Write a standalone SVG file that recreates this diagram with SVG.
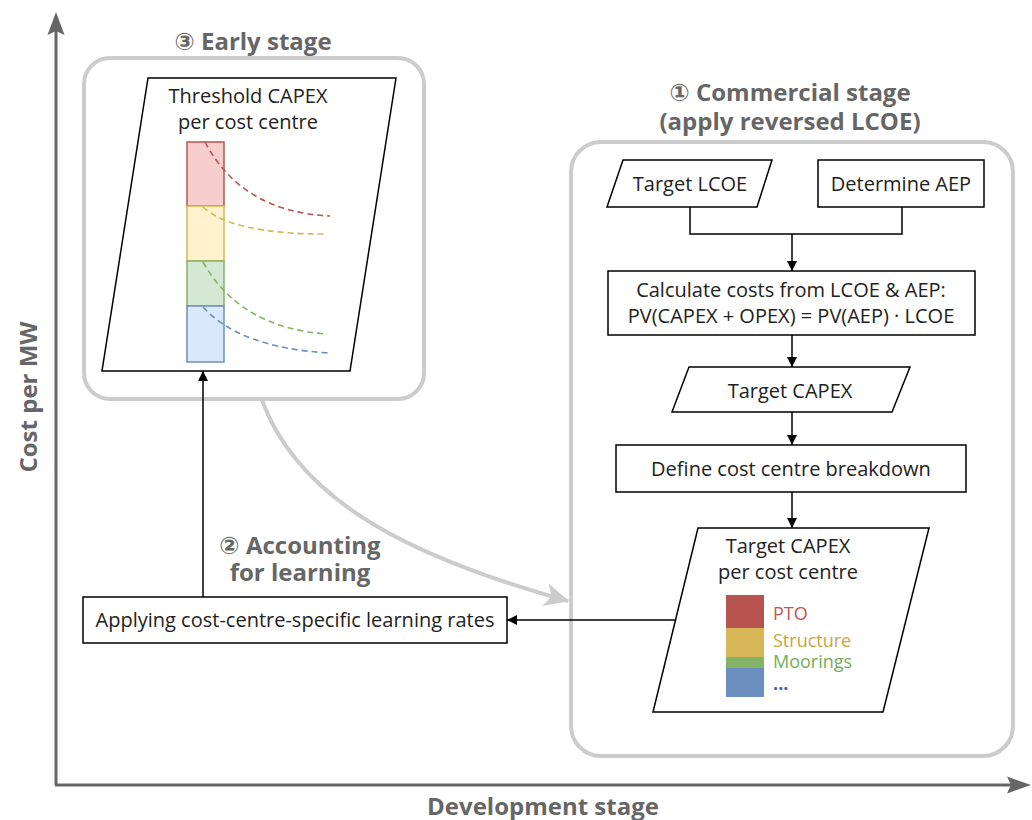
<svg xmlns="http://www.w3.org/2000/svg" width="1032" height="820" viewBox="0 0 1032 820">
<style>
.axis{stroke:#666;stroke-width:3;fill:none}
.grp{fill:none;stroke:#cccccc;stroke-width:4}
.node{fill:#fff;stroke:#000;stroke-width:1.5}
.t{font-family:"Open Sans","DejaVu Sans",sans-serif;font-size:20px;fill:#222;text-anchor:middle}
.lbl{font-family:"Open Sans","DejaVu Sans",sans-serif;font-size:18px}
.h{font-family:"Open Sans","DejaVu Sans",sans-serif;font-size:24px;font-weight:bold;fill:#666;text-anchor:middle}
.edge{stroke:#000;stroke-width:1.5;fill:none}
.dash{fill:none;stroke-width:1.6;stroke-dasharray:6 4}
</style>
<defs>
<marker id="ahb" viewBox="0 0 10 10" refX="10" refY="5" markerWidth="10" markerHeight="10" markerUnits="userSpaceOnUse" orient="auto">
<path d="M0,0 L10,5 L0,10 z" fill="#000"/>
</marker>
<marker id="gh" viewBox="0 0 20 20" refX="18" refY="10" markerWidth="26" markerHeight="26" markerUnits="userSpaceOnUse" orient="auto">
<path d="M0,1 L19,10 L0,19 L5,10 z" fill="#cccccc"/>
</marker>
</defs>

<g id="axes">
<line class="axis" x1="56" y1="785" x2="56" y2="30"/>
<path d="M56,12 L64.5,35 L56,31 L47.5,35 z" fill="#666"/>
<line class="axis" x1="55" y1="785" x2="1012" y2="785"/>
<path d="M1031,785 L1007,793.5 L1011,785 L1007,776.5 z" fill="#666"/>
<text class="h" transform="translate(37,397) rotate(-90)">Cost per MW</text>
<text class="h" x="543" y="815">Development stage</text>
</g>

<g id="early-stage">
<rect class="grp" x="84" y="58" width="340" height="341" rx="26"/>
<text class="h" x="253" y="50">③ Early stage</text>
</g>

<g id="commercial-stage">
<rect class="grp" x="571" y="142" width="442" height="614" rx="30"/>
<text class="h" x="790" y="101">① Commercial stage</text>
<text class="h" x="790" y="130">(apply reversed LCOE)</text>
</g>

<g id="learning-label">
<text class="h" x="300" y="554">② Accounting</text>
<text class="h" x="300" y="581">for learning</text>
</g>

<g id="threshold-capex">
<polygon class="node" points="148,78 396,78 350,371 102,371"/>
<text class="t" x="248" y="103">Threshold CAPEX</text>
<text class="t" x="248" y="129">per cost centre</text>
<rect x="187" y="142" width="37" height="64" fill="#f8cecc" stroke="#b85450" stroke-width="1.5"/>
<rect x="187" y="206" width="37" height="55" fill="#fff2cc" stroke="#d6b656" stroke-width="1.5"/>
<rect x="187" y="261" width="37" height="45" fill="#d5e8d4" stroke="#82b366" stroke-width="1.5"/>
<rect x="187" y="306" width="37" height="56" fill="#dae8fc" stroke="#6c8ebf" stroke-width="1.5"/>
<path class="dash" stroke="#b85450" d="M205,142 Q242,212 330,216"/>
<path class="dash" stroke="#d6b656" d="M203,207 Q232,234 325,234"/>
<path class="dash" stroke="#82b366" d="M203,262 Q240,328 327,334"/>
<path class="dash" stroke="#6c8ebf" d="M203,307 Q240,348 330,353"/>
</g>

<g id="target-lcoe">
<polygon class="node" points="623,160 772,160 757,207 607,207"/>
<text class="t" x="690" y="191">Target LCOE</text>
</g>

<g id="determine-aep">
<rect class="node" x="818" y="160" width="166" height="47"/>
<text class="t" x="901" y="191">Determine AEP</text>
</g>

<g id="calculate-costs">
<rect class="node" x="608" y="271" width="367" height="64"/>
<text class="t" x="791" y="297">Calculate costs from LCOE &amp; AEP:</text>
<text class="t" x="791" y="323">PV(CAPEX + OPEX) = PV(AEP) · LCOE</text>
</g>

<g id="target-capex">
<polygon class="node" points="689,367 910,367 892,412 672,412"/>
<text class="t" x="790" y="398">Target CAPEX</text>
</g>

<g id="define-breakdown">
<rect class="node" x="616" y="445" width="350" height="47"/>
<text class="t" x="791" y="476">Define cost centre breakdown</text>
</g>

<g id="target-capex-per-centre">
<polygon class="node" points="698,528 929,528 883,712 653,712"/>
<text class="t" x="788" y="553">Target CAPEX</text>
<text class="t" x="788" y="579">per cost centre</text>
<rect x="726" y="595" width="38" height="33" fill="#b85450"/>
<rect x="726" y="628" width="38" height="29" fill="#d6b656"/>
<rect x="726" y="657" width="38" height="11" fill="#82b366"/>
<rect x="726" y="668" width="38" height="29" fill="#6c8ebf"/>
<text class="lbl" x="773" y="620" fill="#c9524f">PTO</text>
<text class="lbl" x="773" y="647" fill="#c9a640">Structure</text>
<text class="lbl" x="773" y="668" fill="#6fae5b">Moorings</text>
<text class="lbl" x="773" y="690" fill="#3d64a8" font-weight="bold">...</text>
</g>

<g id="applying-learning">
<rect class="node" x="83" y="597" width="424" height="46"/>
<text class="t" x="295" y="627">Applying cost-centre-specific learning rates</text>
</g>

<g id="connectors">
<path class="edge" d="M690,207 V234 H902 V207"/>
<path class="edge" d="M792,234 V271" marker-end="url(#ahb)"/>
<path class="edge" d="M792,335 V367" marker-end="url(#ahb)"/>
<path class="edge" d="M792,412 V445" marker-end="url(#ahb)"/>
<path class="edge" d="M792,492 V528" marker-end="url(#ahb)"/>
<path class="edge" d="M675,620 H507" marker-end="url(#ahb)"/>
<path class="edge" d="M203,597 V371" marker-end="url(#ahb)"/>
<path d="M262,400 C300,505 420,560 568,601" fill="none" stroke="#cccccc" stroke-width="4" marker-end="url(#gh)"/>
</g>
</svg>
